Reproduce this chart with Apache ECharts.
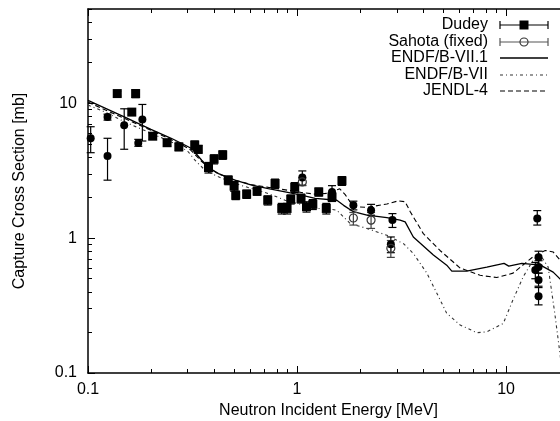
<!DOCTYPE html>
<html><head><meta charset="utf-8">
<script src="https://cdn.jsdelivr.net/npm/echarts@6/dist/echarts.min.js"></script>
<style>html,body{margin:0;padding:0;background:#fff}#c{width:560px;height:421px}</style>
</head><body><div id="c"></div>
<script>
// ---- tick values ----
const xMajorTicks = [0.1, 1, 10];
const xMinorTicks = [0.2,0.3,0.4,0.5,0.6,0.7,0.8,0.9,2,3,4,5,6,7,8,9,20];
const yMajorTicks = [0.1, 1, 10];
const yMinorTicks = [0.2,0.3,0.4,0.5,0.6,0.7,0.8,0.9,2,3,4,5,6,7,8,9,20,30,40,50];

// ---- Dudey (filled squares) ----
const dudeyE   = [0.138,0.162,0.169,0.204,0.239,0.272,0.324,0.337,0.377,0.401,0.441,0.469,0.500,0.509,0.574,0.644,0.724,0.785,0.845,0.896,0.933,0.975,1.045,1.11,1.19,1.27,1.38,1.47,1.64];
const dudeyXS  = [11.8,8.6,11.8,5.7,5.1,4.75,4.9,4.56,3.34,3.85,4.14,2.69,2.43,2.08,2.12,2.23,1.91,2.54,1.66,1.66,1.94,2.38,1.97,1.71,1.78,2.20,1.66,2.02,2.66];
const dudeyErr = [0.5,0.4,0.8,0.3,0.3,0.3,0.35,0.3,0.3,0.3,0.3,0.2,0.2,0.15,0.15,0.15,0.15,0.2,0.15,0.15,0.15,0.2,0.15,0.15,0.15,0.15,0.15,0.15,0.2];

// ---- Sahota (fixed) (open circles) ----
const sahotaFixE  = [1.06,1.86,2.26,2.81];
const sahotaFixXS = [2.61,1.41,1.36,0.84];
const sahotaFixLo = [2.45,1.25,1.18,0.72];
const sahotaFixHi = [2.80,1.55,1.55,0.96];

// ---- Sahota original (filled circles) ----
const sahotaE  = [0.103,0.124,0.124,0.149,0.174,0.182,1.06,1.47,1.86,2.26,2.86,2.81,14.1,14.3,14.3,13.8,14.3,14.3];
const sahotaXS = [5.5,7.9,4.07,6.87,5.08,7.57,2.81,2.20,1.75,1.61,1.36,0.90,1.40,0.72,0.61,0.58,0.49,0.37];
const sahotaLo = [4.3,7.5,2.69,4.56,4.8,5.25,2.47,1.9,1.62,1.48,1.2,0.78,1.25,0.63,0.55,0.50,0.44,0.32];
const sahotaHi = [6.7,8.3,5.5,9.1,5.4,9.8,3.15,2.45,1.88,1.78,1.52,1.02,1.60,0.80,0.68,0.66,0.55,0.43];

// ---- evaluations ----
const endf71E  = [0.1,0.15,0.2,0.25,0.281,0.313,0.35,0.377,0.421,0.505,0.607,0.729,0.877,1.05,1.22,1.55,1.67,1.86,2.16,2.69,3.11,3.29,3.6,4.49,5.2,5.5,6.48,8.09,9.78,10.3,11.9,14.6,16.8,18.1,20];
const endf71XS = [10.5,7.9,6.4,5.5,5.03,4.62,3.78,3.34,3.01,2.69,2.47,2.33,2.20,2.08,1.97,1.91,1.75,1.57,1.48,1.42,1.36,1.32,1.02,0.75,0.63,0.57,0.57,0.61,0.65,0.62,0.65,0.63,0.56,0.50,0.42];

const endf7E  = [0.1,0.121,0.15,0.202,0.271,0.302,0.325,0.363,0.421,0.505,0.729,0.877,1.05,1.22,1.39,1.55,1.80,2.16,2.69,3.23,3.6,4.18,4.83,5.2,6.03,7.24,8.09,9.7,10.8,12.1,13.5,14.6,15.9,17.1,18.1,18.6];
const endf7XS = [9.7,8.6,7.27,5.96,4.89,4.36,3.78,3.19,2.85,2.54,2.14,1.91,1.77,1.66,1.66,1.61,1.28,1.18,1.05,0.91,0.77,0.55,0.35,0.277,0.227,0.199,0.202,0.233,0.35,0.52,0.69,0.75,0.61,0.277,0.14,0.1];

const jendlE  = [0.1,0.15,0.2,0.28,0.31,0.35,0.38,0.42,0.5,0.6,0.73,0.88,1.05,1.22,1.4,1.6,1.7,1.86,2.16,2.69,3.05,3.29,3.48,4.02,4.83,6.03,7.51,9.03,10.8,13.5,15.4,16.8,18.1,20];
const jendlXS = [10.2,7.7,6.3,4.95,4.5,3.7,3.3,3.0,2.7,2.5,2.38,2.28,2.18,2.12,2.15,2.32,2.1,1.71,1.69,1.79,1.89,1.86,1.57,1.08,0.81,0.60,0.53,0.51,0.55,0.73,0.81,0.79,0.69,0.5];

const zip = (a, b) => a.map((v, i) => [v, b[i]]);
const FONT = 'Liberation Sans, Arial, sans-serif';

function errSeries(xs, lo, hi, color) {
  return {
    type: 'custom', xAxisIndex: 0, yAxisIndex: 0, silent: true, z: 3,
    encode: {x: 0, y: [1, 2]},
    data: xs.map((x, i) => [x, lo[i], hi[i]]),
    renderItem: function (params, api) {
      const x = api.value(0);
      const p1 = api.coord([x, api.value(1)]);
      const p2 = api.coord([x, api.value(2)]);
      const w = 4;
      const st = {stroke: color, lineWidth: 1.2};
      return {type: 'group', children: [
        {type: 'line', shape: {x1: p1[0], y1: p1[1], x2: p2[0], y2: p2[1]}, style: st},
        {type: 'line', shape: {x1: p1[0]-w, y1: p1[1], x2: p1[0]+w, y2: p1[1]}, style: st},
        {type: 'line', shape: {x1: p2[0]-w, y1: p2[1], x2: p2[0]+w, y2: p2[1]}, style: st}
      ]};
    }
  };
}

function logAxis(pos, ticks, len, showLine, extra) {
  return Object.assign({
    type: 'log', logBase: 10, position: pos,
    axisLine: {show: showLine, onZero: false, lineStyle: {color: '#000', width: 1.5}},
    axisTick: {show: true, inside: true, length: len, customValues: ticks, lineStyle: {color: '#000', width: 1}},
    axisLabel: {show: false},
    splitLine: {show: false}, minorTick: {show: false}, minorSplitLine: {show: false}
  }, extra);
}
const fmt = v => String(+(+v).toPrecision(3));
const xExtra = {min: 0.1, max: 20};
const yExtra = {min: 0.1, max: 50};

const chart = echarts.init(document.getElementById('c'), null, {renderer: 'canvas'});
const legendY = [25, 42, 58, 75, 91];
const legendX0 = 500, legendX1 = 548, legendXT = 488;
const legendNames = ['Dudey', 'Sahota (fixed)', 'ENDF/B-VII.1', 'ENDF/B-VII', 'JENDL-4'];
const legendGraphics = [];
legendNames.forEach((n, i) => {
  legendGraphics.push({type: 'text', x: legendXT, y: legendY[i],
    style: {text: n, fill: '#000', font: '16px ' + FONT, textAlign: 'right', textVerticalAlign: 'middle'}});
});
[[0, '#000'], [1, '#555']].forEach(([i, c]) => {
  const y = legendY[i];
  legendGraphics.push({type: 'line', shape: {x1: legendX0, y1: y, x2: legendX1, y2: y}, style: {stroke: c, lineWidth: 1.2}});
  legendGraphics.push({type: 'line', shape: {x1: legendX0, y1: y-4, x2: legendX0, y2: y+4}, style: {stroke: c, lineWidth: 1.2}});
  legendGraphics.push({type: 'line', shape: {x1: legendX1, y1: y-4, x2: legendX1, y2: y+4}, style: {stroke: c, lineWidth: 1.2}});
});
legendGraphics.push({type: 'rect', shape: {x: 519.5, y: legendY[0]-4.5, width: 9, height: 9}, style: {fill: '#000'}});
legendGraphics.push({type: 'circle', shape: {cx: 524, cy: legendY[1], r: 4}, style: {fill: '#fff', stroke: '#333', lineWidth: 1.2}});
legendGraphics.push({type: 'line', shape: {x1: 520, y1: legendY[1], x2: 528, y2: legendY[1]}, style: {stroke: '#555', lineWidth: 1}});
legendGraphics.push({type: 'line', shape: {x1: legendX0, y1: legendY[2], x2: legendX1, y2: legendY[2]}, style: {stroke: '#000', lineWidth: 1.3}});
legendGraphics.push({type: 'line', shape: {x1: legendX0, y1: legendY[3], x2: legendX1, y2: legendY[3]}, style: {stroke: '#333', lineWidth: 1.1, lineDash: [3, 3, 1, 3]}});
legendGraphics.push({type: 'line', shape: {x1: legendX0, y1: legendY[4], x2: legendX1, y2: legendY[4]}, style: {stroke: '#000', lineWidth: 1.1, lineDash: [5, 3]}});

chart.setOption({
  animation: false,
  backgroundColor: '#fff',
  grid: {left: 88, top: 9, width: 481, height: 364, containLabel: false, outerBoundsMode: 'none'},
  xAxis: [
    logAxis('bottom', xMajorTicks, 7, true, Object.assign({
      name: 'Neutron Incident Energy [MeV]', nameLocation: 'middle', nameGap: 30,
      nameTextStyle: {color: '#000', fontSize: 16, fontFamily: FONT},
      axisLabel: {show: true, customValues: xMajorTicks, margin: 9, color: '#000', fontSize: 16, fontFamily: FONT, formatter: fmt}
    }, xExtra)),
    logAxis('bottom', xMinorTicks, 4, false, xExtra),
    logAxis('top', xMajorTicks, 7, true, xExtra),
    logAxis('top', xMinorTicks, 4, false, xExtra)
  ],
  yAxis: [
    logAxis('left', yMajorTicks, 7, true, Object.assign({
      name: 'Capture Cross Section [mb]', nameLocation: 'middle', nameGap: 60,
      nameTextStyle: {color: '#000', fontSize: 16, fontFamily: FONT},
      axisLabel: {show: true, customValues: yMajorTicks, margin: 11, color: '#000', fontSize: 16, fontFamily: FONT, formatter: fmt}
    }, yExtra)),
    logAxis('left', yMinorTicks, 4, false, yExtra)
  ],
  graphic: legendGraphics,
  series: [
    {name: 'ENDF/B-VII.1', type: 'line', data: zip(endf71E, endf71XS), showSymbol: false, symbol: 'none',
      lineStyle: {color: '#000', width: 1.3}, z: 2},
    {name: 'ENDF/B-VII', type: 'line', data: zip(endf7E, endf7XS), showSymbol: false, symbol: 'none',
      lineStyle: {color: '#333', width: 1.1, type: [3, 3, 1, 3]}, z: 2},
    {name: 'JENDL-4', type: 'line', data: zip(jendlE, jendlXS), showSymbol: false, symbol: 'none',
      lineStyle: {color: '#000', width: 1.1, type: [5, 3]}, z: 2},
    errSeries(dudeyE, dudeyE.map((v, i) => dudeyXS[i] - dudeyErr[i]), dudeyE.map((v, i) => dudeyXS[i] + dudeyErr[i]), '#000'),
    errSeries(sahotaE, sahotaLo, sahotaHi, '#000'),
    errSeries(sahotaFixE, sahotaFixLo, sahotaFixHi, '#444'),
    {name: 'Dudey', type: 'scatter', data: zip(dudeyE, dudeyXS), symbol: 'rect', symbolSize: 9,
      itemStyle: {color: '#000', opacity: 1}, z: 4},
    {name: 'Sahota', type: 'scatter', data: zip(sahotaE, sahotaXS), symbol: 'circle', symbolSize: 8,
      itemStyle: {color: '#000', opacity: 1}, z: 4},
    {name: 'Sahota (fixed)', type: 'scatter', data: zip(sahotaFixE, sahotaFixXS), symbol: 'circle', symbolSize: 8,
      itemStyle: {color: 'rgba(255,255,255,0)', borderColor: '#333', borderWidth: 1.2, opacity: 1}, z: 4}
  ]
});
</script>
</body></html>
